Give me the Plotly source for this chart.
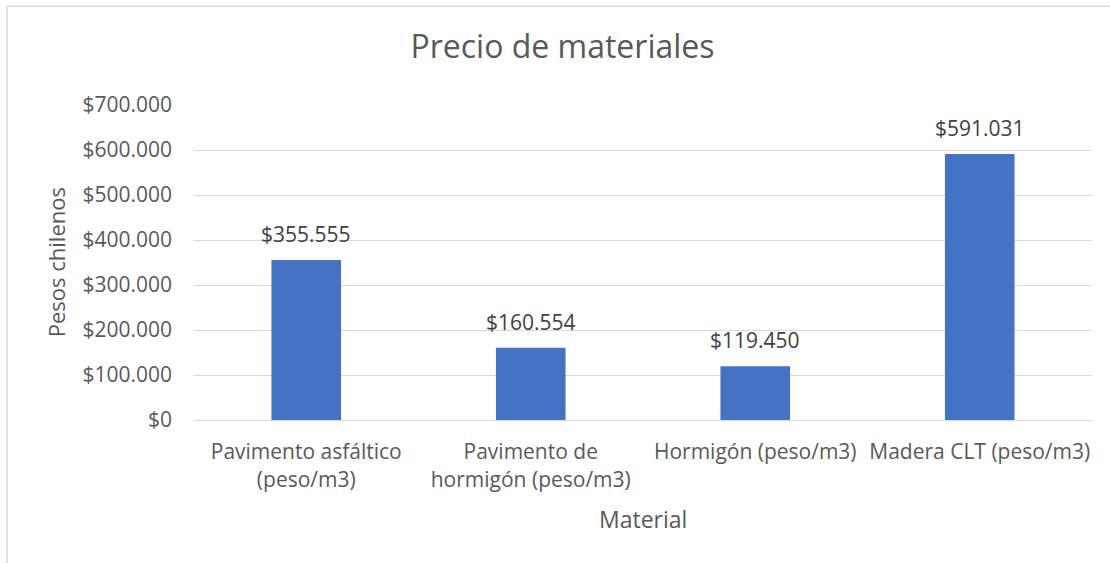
import plotly.graph_objects as go

categories = ["Pavimento asfáltico (peso/m3)", "Pavimento de hormigón (peso/m3)",
              "Hormigón (peso/m3)", "Madera CLT (peso/m3)"]
tick_labels = ["Pavimento asfáltico<br>(peso/m3)", "Pavimento de<br>hormigón (peso/m3)",
               "Hormigón (peso/m3)", "Madera CLT (peso/m3)"]
prices = [355555, 160554, 119450, 591031]
y_ticks = [0, 100000, 200000, 300000, 400000, 500000, 600000, 700000]

W, H = 1110, 563
PL, PR, PT, PB = 194, 1092, 105, 420.5   # plot area in pixels
PW, PH = PR - PL, PB - PT
FONT = "Open Sans, sans-serif"
GREY = "#595959"

def px_x(p):
    return (p - PL) / PW

def px_y(p):
    return (PB - p) / PH

fig = go.Figure(go.Bar(
    x=categories, y=prices,
    marker=dict(color="#4472C4", line=dict(width=0)),
    width=0.31,
))

label_annotations = [
    dict(x=c, y=v, xref="x", yref="y", text=f"${v:,.0f}".replace(",", "."),
         showarrow=False, xanchor="center", yanchor="bottom", yshift=10,
         font=dict(size=21, color="#404040", family=FONT))
    for c, v in zip(categories, prices)
]

fig.update_layout(
    width=W, height=H,
    margin=dict(l=PL, r=W - PR, t=PT, b=H - PB, pad=0, autoexpand=False),
    paper_bgcolor="white", plot_bgcolor="white",
    separators=",.",
    showlegend=False,
    font=dict(family=FONT, color=GREY),
    title=dict(text="Precio de materiales", x=562.5 / W, xref="container", xanchor="center",
               y=1 - 47 / H, yref="container", yanchor="middle",
               font=dict(size=32, color=GREY, family=FONT)),
    xaxis=dict(tickvals=categories, ticktext=tick_labels, automargin=False,
               tickfont=dict(size=21, color=GREY), showline=True, linecolor="#d9d9d9",
               linewidth=1, ticks="", showgrid=False, ticklabelstandoff=13),
    yaxis=dict(range=[0, 700000], tickvals=y_ticks, automargin=False,
               tickformat="$,.0f", tickfont=dict(size=21, color=GREY),
               gridcolor="#d9d9d9", gridwidth=1, zeroline=False, ticks="",
               showline=False, ticklabelstandoff=21),
    annotations=label_annotations + [
        dict(text="Material", xref="paper", yref="paper", x=0.5, y=px_y(520),
             xanchor="center", yanchor="middle", showarrow=False,
             font=dict(size=23, color=GREY, family=FONT)),
        dict(text="Pesos chilenos", xref="paper", yref="paper", x=px_x(56), y=px_y(262.5),
             xanchor="center", yanchor="middle", textangle=-90, showarrow=False,
             font=dict(size=22, color=GREY, family=FONT)),
    ],
    shapes=[dict(type="rect", xref="paper", yref="paper",
                 x0=px_x(7), x1=px_x(W + 20), y0=px_y(H + 20), y1=px_y(6),
                 line=dict(color="#d9d9d9", width=1.5), fillcolor="rgba(0,0,0,0)")],
)

fig.write_html("out.html")
